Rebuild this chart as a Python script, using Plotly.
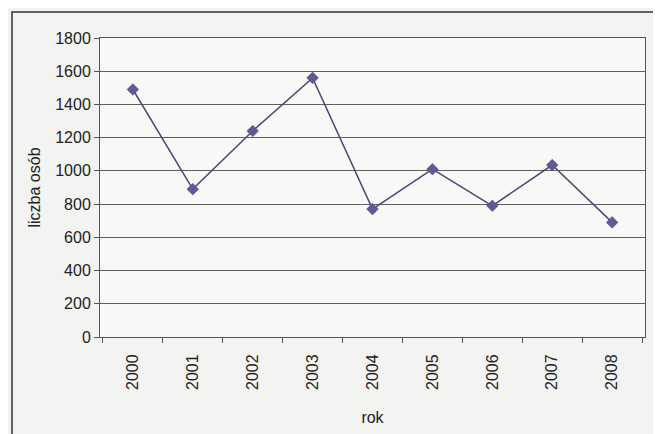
import plotly.graph_objects as go

years = ["2000", "2001", "2002", "2003", "2004", "2005", "2006", "2007", "2008"]
values = [1490, 890, 1240, 1560, 770, 1010, 790, 1035, 690]
y_ticks = [0, 200, 400, 600, 800, 1000, 1200, 1400, 1600, 1800]

FONT = "Liberation Sans Narrow, Arial Narrow, Liberation Sans, Arial"

fig = go.Figure(go.Scatter(
    x=years, y=values, mode="lines+markers",
    line=dict(color="#4b4872", width=1.5),
    marker=dict(symbol="diamond", size=9, color="#5e5a96",
                line=dict(color="#4b4872", width=0.5)),
    showlegend=False,
))

fig.update_layout(
    width=653, height=426,
    margin=dict(l=92, r=16, t=30, b=97, autoexpand=False),
    paper_bgcolor="#f3f3f1",
    plot_bgcolor="#f8f8f7",
    font=dict(family=FONT, size=16, color="#222222"),
    xaxis=dict(
        type="category", tickangle=-90, showgrid=False, automargin=False,
        ticks="outside", tickson="boundaries", ticklen=5, tickcolor="#555",
        ticklabelstandoff=10,
        showline=True, linecolor="#555", linewidth=1, mirror=True,
        title=dict(text="rok", font=dict(family=FONT, size=16), standoff=22),
    ),
    yaxis=dict(
        range=[0, 1800], tickvals=y_ticks, automargin=False,
        ticks="outside", ticklen=5, tickcolor="#555",
        showgrid=True, gridcolor="#5f5f5f", gridwidth=1,
        showline=True, linecolor="#555", linewidth=1, mirror=True,
        zeroline=False,
        title=dict(text="liczba osób", font=dict(family=FONT, size=16), standoff=10),
    ),
    shapes=[dict(type="rect", xref="paper", yref="paper",
                 x0=-88/545, x1=1.1, y0=-0.5, y1=1 + 26/299,
                 line=dict(color="#333", width=1.5), fillcolor="rgba(0,0,0,0)",
                 layer="below")],
)

fig.write_html("out.html")
